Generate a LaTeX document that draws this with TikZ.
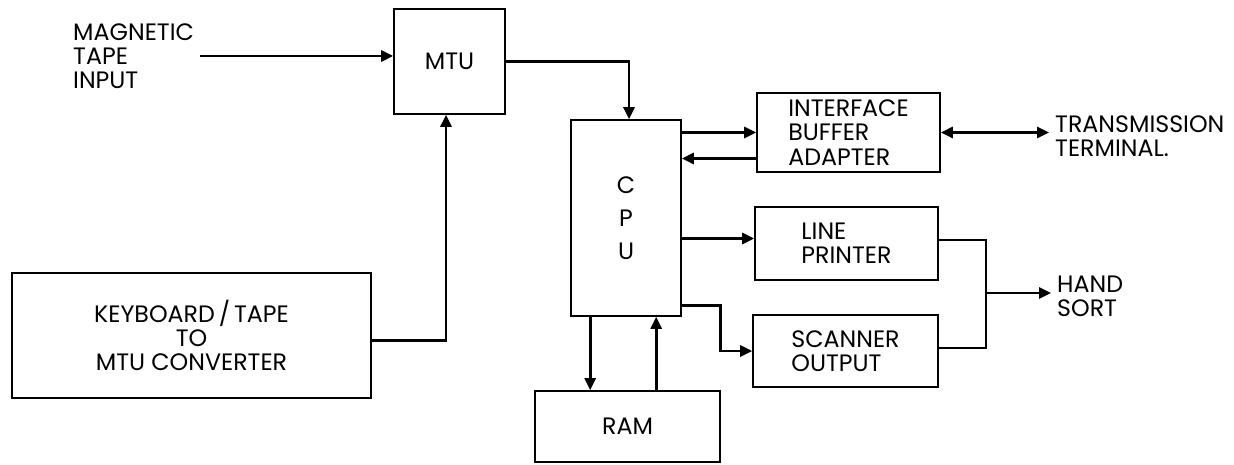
\documentclass[tikz,border=0pt]{standalone}
\usepackage{fontspec}
\setmainfont{Poppins}
\usetikzlibrary{arrows.meta}

\begin{document}
\begin{tikzpicture}[
    font=\fontsize{13.5}{13.8}\selectfont,
    unit/.style={draw, line width=0.9pt, align=left, inner sep=0pt},
    lbl/.style={align=left, anchor=west},
    wire/.style={line width=1.5pt},
    flow/.style={wire, -{Triangle[length=2.4mm,width=2.2mm]}},
    twoway/.style={wire, {Triangle[length=2.4mm,width=2.2mm]}-{Triangle[length=2.4mm,width=2.2mm]}}
]
    % --- Boxes ---
    \node[unit, minimum width=2.22cm, minimum height=2.1cm] (mtu) at (8.99, -1.23) {MTU};
    \node[unit, align=center, minimum width=2.2cm, minimum height=3.92cm] (cpu) at (12.52, -4.36) {C\\[5pt]P\\[5pt]U};
    \node[unit, minimum width=3.66cm, minimum height=1.58cm] (iba) at (16.97, -2.65) {INTERFACE\\BUFFER\\ADAPTER};
    \node[unit, minimum width=3.66cm, minimum height=1.46cm] (lp) at (16.93, -4.87) {LINE\\PRINTER};
    \node[unit, minimum width=3.7cm, minimum height=1.44cm] (so) at (16.91, -7.02) {SCANNER\\OUTPUT};
    \node[unit, align=center, minimum width=7.18cm, minimum height=2.5cm] (kb) at (3.83, -6.71) {KEYBOARD\,/\,TAPE\\TO\\MTU CONVERTER};
    \node[unit, minimum width=3.7cm, minimum height=1.42cm] (ram) at (12.55, -8.53) {RAM};

    % --- Free labels ---
    \node[lbl] (tapein) at (1.34, -1.12) {MAGNETIC\\TAPE\\INPUT};
    \node[lbl] (trans) at (20.98, -2.72) {TRANSMISSION\\TERMINAL.};
    \node[lbl] (hand) at (21.02, -5.93) {HAND\\SORT};

    \coordinate (join) at (19.72, -5.86);

    % --- Connections ---
    \draw[flow] (tapein) -- (tapein -| mtu.west);
    \draw[flow] (mtu.east) -| ([xshift=0.06cm]cpu.north);
    \draw[flow] ([yshift=-0.1cm]kb.east) -| ([xshift=-0.07cm]mtu.south);

    \draw[flow] (cpu.east |- iba.west) -- (iba.west);
    \draw[flow] ([yshift=-0.52cm]iba.west) -- ([yshift=-0.52cm]iba.west -| cpu.east);
    \draw[twoway] (iba.east) -- (iba.east -| trans.west);

    \draw[flow] ([yshift=0.1cm]cpu.east |- lp.west) -- ([yshift=0.1cm]lp.west);
    \draw[flow] ([yshift=0.22cm]cpu.south east) -- ++(0.78, 0) |- (so.west);

    \draw[wire] ([yshift=0.07cm]lp.east) -| (join) |- ([yshift=0.06cm]so.east);
    \draw[flow] (join) -- (join -| hand.west);

    \draw[flow] ([xshift=0.4cm]cpu.south west) -- ([xshift=0.4cm]cpu.south west |- ram.north);
    \draw[flow] ([xshift=2.44cm]ram.north west) -- ([xshift=2.44cm]ram.north west |- cpu.south);

    % Bounding box for margins
    \useasboundingbox (0, 0) rectangle (24.68, -9.3);
\end{tikzpicture}
\end{document}
